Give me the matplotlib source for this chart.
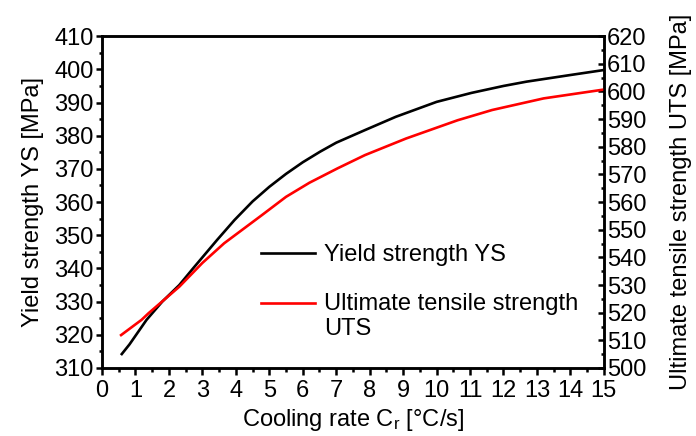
import numpy as np
import matplotlib
matplotlib.use("Agg")
import matplotlib.pyplot as plt
from matplotlib.ticker import MultipleLocator

plt.rcParams['font.family'] = ['Liberation Sans', 'DejaVu Sans']
plt.rcParams['mathtext.default'] = 'regular'

# yield strength (left axis)
ys_x = [0.59, 0.82, 1.33, 1.8, 2.31, 2.72, 3.44, 3.96, 4.5, 5.0, 5.5, 6.0,
        6.52, 7.0, 7.86, 8.78, 10.0, 11.04, 12.0, 12.69, 14.0, 15.0]
ys_v = [314.2, 317.1, 324.5, 330.0, 335.0, 340.0, 348.6, 354.6, 360.2, 364.6,
        368.5, 372.0, 375.2, 377.9, 381.7, 385.7, 390.2, 392.9, 395.0, 396.3,
        398.3, 399.8]

# ultimate tensile strength (right axis)
uts_x = [0.57, 1.18, 1.39, 2.31, 3.0, 3.65, 4.78, 5.5, 6.2, 7.04, 7.86, 9.09,
         10.63, 11.66, 13.2, 15.0]
uts_v = [511.9, 517.4, 519.8, 529.4, 538.0, 545.1, 555.3, 561.9, 567.0, 572.2,
         577.0, 583.0, 589.6, 593.3, 597.5, 600.7]

fs_tick = 17
fs_lab = 17
fs_leg = 17
lw = 1.9

fig = plt.figure(figsize=(6.96, 4.36), dpi=100)
ax = fig.add_axes([0.1466, 0.156, 0.721, 0.761])
ax2 = ax.twinx()

l1, = ax.plot(ys_x, ys_v, color='black', lw=lw, label='Yield strength YS')
l2, = ax2.plot(uts_x, uts_v, color='red', lw=lw,
               label='Ultimate tensile strength\nUTS')

ax.set_xlim(0, 15)
ax.set_ylim(310, 410)
ax2.set_ylim(500, 620)

ax.xaxis.set_major_locator(MultipleLocator(1))
ax.xaxis.set_minor_locator(MultipleLocator(0.5))
ax.yaxis.set_major_locator(MultipleLocator(10))
ax.yaxis.set_minor_locator(MultipleLocator(5))
ax2.yaxis.set_major_locator(MultipleLocator(10))
ax2.yaxis.set_minor_locator(MultipleLocator(5))

for a in (ax, ax2):
    for s in a.spines.values():
        s.set_linewidth(1.8)

ax.tick_params(axis='x', which='major', direction='out', length=5, width=1.8,
               labelsize=fs_tick, pad=4)
ax.tick_params(axis='x', which='minor', direction='out', length=3, width=1.8)
ax.tick_params(axis='y', which='major', direction='out', length=4.5, width=1.8,
               labelsize=fs_tick, pad=1.5)
ax.tick_params(axis='y', which='minor', direction='out', length=2.5, width=1.8)
ax2.tick_params(axis='y', which='major', direction='in', length=4, width=1.8,
                labelsize=fs_tick, pad=2)
ax2.tick_params(axis='y', which='minor', direction='in', length=2.5, width=1.8)

ax.set_xlabel('Cooling rate C$_r$ [°C/s]', fontsize=fs_lab, labelpad=3)
ax.set_ylabel('Yield strength YS [MPa]', fontsize=fs_lab, labelpad=7)
ax2.set_ylabel('Ultimate tensile strength UTS [MPa]', fontsize=fs_lab,
               labelpad=17)

leg = ax2.legend(handles=[l1, l2], loc='upper left',
                 bbox_to_anchor=(0.317, 0.374), frameon=False,
                 fontsize=fs_leg, handlelength=2.3, handletextpad=0.35,
                 labelspacing=1.13, borderpad=0, borderaxespad=0)
# put the red handle level with the first line of its two-line label
h = leg.legend_handles[1]
h.set_ydata(np.asarray(h.get_ydata()) + 0.58 * fs_leg)

fig.savefig('out.png', dpi=100)
